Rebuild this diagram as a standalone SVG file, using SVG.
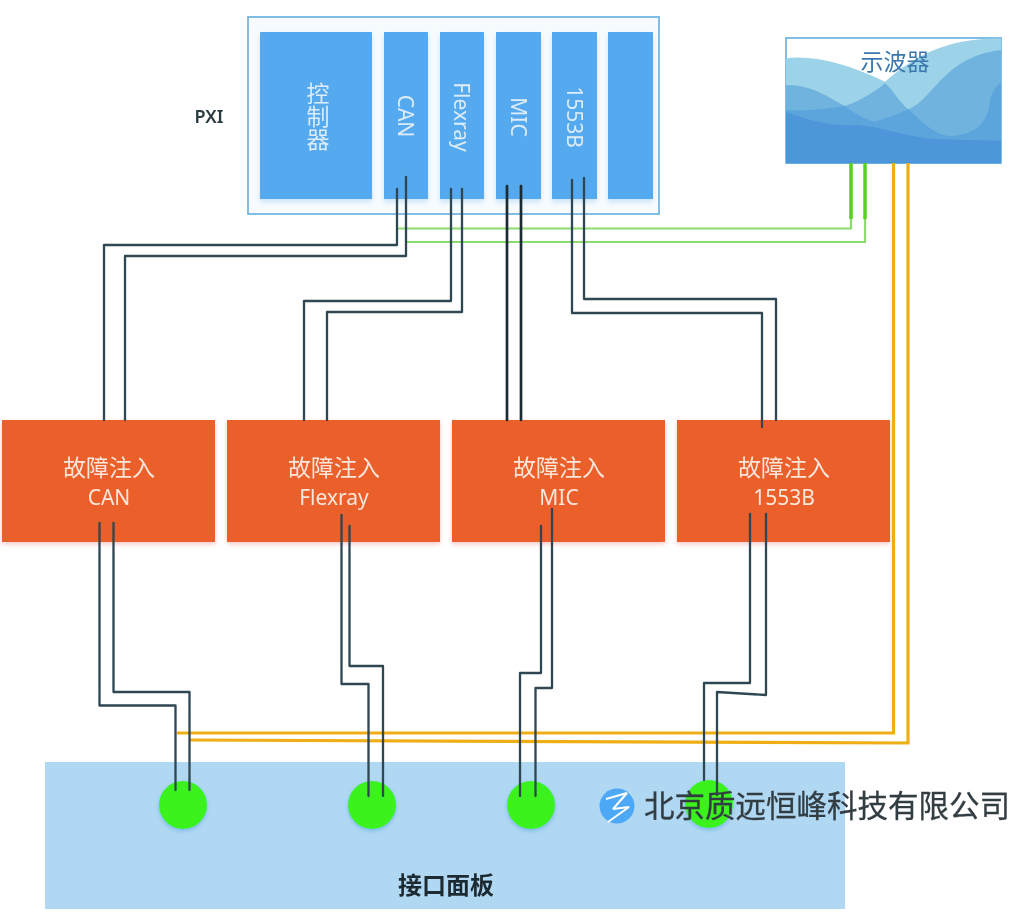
<svg xmlns="http://www.w3.org/2000/svg" width="1012" height="917" viewBox="0 0 1012 917">
<style>
text{font-family:"Noto Sans","Noto Sans CJK SC",sans-serif}
.slot{fill:#55a9ee;filter:url(#sh)}
.wt{fill:#dcecf8;font-size:21px;text-anchor:middle}
.fi{fill:#eb5f2a;filter:url(#shr)}
.ft{fill:#fbe6dc;text-anchor:middle}
.n1{font-size:23px}
.n2{font-size:21px}
.pin{fill:#3af21f;filter:url(#shb)}
.w{fill:none;stroke:#2d4752;stroke-width:2.300;stroke-linejoin:round;stroke-linecap:round}
.wd{fill:none;stroke:#1a2a31;stroke-width:2.700;stroke-linejoin:round;stroke-linecap:round}
.gt{fill:none;stroke:#8bdc6c;stroke-width:2.200}
.gk{fill:none;stroke:#52d31c;stroke-width:3.500}
.or{fill:none;stroke:#f0ae14;stroke-width:3.200}
.soft{filter:url(#b)}
</style>
<defs>
<filter id="b" x="-5%" y="-5%" width="110%" height="110%"><feGaussianBlur stdDeviation="0.5"/></filter>
<filter id="sh" x="-20%" y="-10%" width="140%" height="120%"><feDropShadow dx="0" dy="3" stdDeviation="2.500" flood-color="#9ccbec" flood-opacity=".5"/></filter>
<filter id="shr" x="-5%" y="-10%" width="110%" height="125%"><feDropShadow dx="0" dy="2" stdDeviation="2.500" flood-color="#eb8f8f" flood-opacity=".5"/></filter>
<filter id="shb" x="-20%" y="-20%" width="140%" height="140%"><feDropShadow dx="0" dy="2" stdDeviation="2" flood-color="#5aa3da" flood-opacity=".6"/></filter>
</defs>
<rect width="1012" height="917" fill="#fff"/>
<g class="soft">
<g id="pxi">
<rect x="248" y="17" width="411" height="197" fill="#f7fbfe" stroke="#74b6e2" stroke-width="1.800"/>
<text x="209" y="123" font-size="18" font-weight="600" fill="#2b3a42" text-anchor="middle">PXI</text>
</g>
<g id="controller">
<rect class="slot" x="260" y="32" width="112" height="167"/>
<text x="317" y="116" font-size="23" fill="#dcecf8" text-anchor="middle" dominant-baseline="central" style="writing-mode:vertical-rl">控制器</text>
</g>
<g id="slot-can"><rect class="slot" x="384" y="32" width="44" height="167"/><text class="wt" transform="translate(398 116) rotate(90)">CAN</text></g>
<g id="slot-flexray"><rect class="slot" x="440" y="32" width="44" height="167"/><text class="wt" transform="translate(454 117) rotate(90)">Flexray</text></g>
<g id="slot-mic"><rect class="slot" x="496" y="32" width="45" height="167"/><text class="wt" transform="translate(511 117) rotate(90)">MIC</text></g>
<g id="slot-1553b"><rect class="slot" x="552" y="32" width="45" height="167"/><text class="wt" transform="translate(567 117) rotate(90)">1553B</text></g>
<g id="slot-empty"><rect class="slot" x="608" y="32" width="45" height="167"/></g>
<g id="oscilloscope">
<rect x="786" y="38" width="215" height="125" fill="#fff" stroke="#74b6e2" stroke-width="1.800"/>
<g transform="translate(680 20) scale(.33333)">
<path fill="#9dd3e8" d="M318 115C400 105 500 130 615 185C680 130 760 70 900 58L963 55V430H318Z"/>
<path fill="#70b3df" d="M318 195C400 195 450 235 495 258C550 240 590 210 615 190C640 210 660 250 685 268C760 240 790 110 963 90V430H318Z"/>
<path fill="#5ca5dc" d="M318 270C380 275 450 265 495 258C530 285 560 300 585 305C620 295 660 280 685 268C730 310 770 350 815 348C900 340 925 300 930 240C935 215 950 200 963 185V430H318Z"/>
<path fill="#4d96d9" d="M318 275C380 300 450 320 530 315C600 320 660 345 740 355C820 362 900 360 963 362V430H318Z"/>
</g>
<text x="895" y="70" font-size="23" fill="#3b78ad" text-anchor="middle">示波器</text>
</g>
<g id="fault-can"><rect class="fi" x="2" y="420" width="213" height="122"/><text class="ft n1" x="109" y="476">故障注入</text><text class="ft n2" x="109" y="505">CAN</text></g>
<g id="fault-flexray"><rect class="fi" x="227" y="420" width="213" height="122"/><text class="ft n1" x="334" y="476">故障注入</text><text class="ft n2" x="334" y="505">Flexray</text></g>
<g id="fault-mic"><rect class="fi" x="452" y="420" width="213" height="122"/><text class="ft n1" x="559" y="476">故障注入</text><text class="ft n2" x="559" y="505">MIC</text></g>
<g id="fault-1553b"><rect class="fi" x="677" y="420" width="213" height="122"/><text class="ft n1" x="784" y="476">故障注入</text><text class="ft n2" x="784" y="505">1553B</text></g>
<g id="panel">
<rect x="45" y="762" width="800" height="147" fill="#b0d8f3"/>
<text x="446" y="894" font-size="24" font-weight="700" fill="#1e2a30" text-anchor="middle">接口面板</text>
</g>
<g id="port-1"><circle class="pin" cx="183" cy="805" r="24"/></g>
<g id="port-2"><circle class="pin" cx="372" cy="805" r="24"/></g>
<g id="port-3"><circle class="pin" cx="531" cy="805" r="24"/></g>
<g id="port-4"><circle class="pin" cx="709" cy="804" r="24"/></g>
<g id="connectors">
<path class="gt" d="M397 228.500H851V219M406 242H865V219"/>
<path class="gk" d="M851 163V219M865 163V219"/>
<path class="or" d="M893.500 163V733H177M908 163V743L189 740"/>
<path class="w" d="M397 189V245H104V420M406 177V256H125V420"/>
<path class="w" d="M451 189V301H304V420"/>
<path class="w" d="M462 189V312H327V420"/>
<path class="wd" d="M507 186V420M521 186V420"/>
<path class="w" d="M572 180V313H762V427M584 178V299H776V420"/>
<path class="w" d="M99.500 523V705.500H175.500V790M113.500 523V692H189.500V790"/>
<path class="w" d="M341.500 515V684H368.500V796M349.500 526V666H383V796"/>
<path class="w" d="M541 526V673H520V796M552 509V688H535.500V796"/>
<path class="w" d="M750 514V683H704V780M766 514V695L717 692V795"/>
</g>
</g>
<g id="watermark" class="soft">
<circle cx="617" cy="806" r="17.500" fill="#4ea8f5"/>
<path d="M606 799L627 793L613 809L629 807L608 822" fill="none" stroke="#fff" stroke-width="2" stroke-linejoin="bevel"/>
<text x="644" y="817" font-size="30.500" fill="#333d43" stroke="#333d43" stroke-width=".3">北京质远恒峰科技有限公司</text>
</g>
</svg>
